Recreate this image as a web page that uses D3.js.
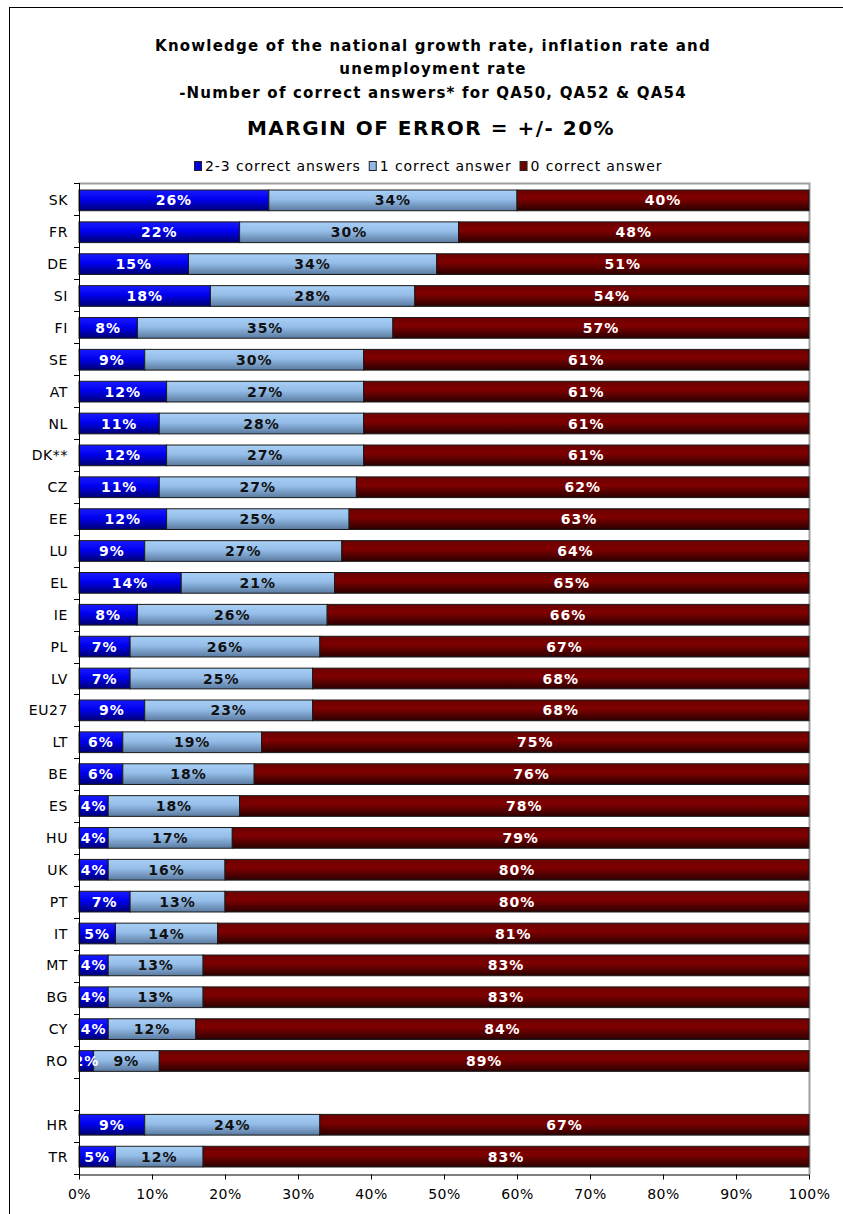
<!DOCTYPE html>
<html lang="en">
<head>
    <meta charset="UTF-8">
    <title>Knowledge of the national growth rate</title>
    <script src="https://d3js.org/d3.v7.min.js"></script>
    <style>
        body { margin: 0; background: #fff; }
        svg { display: block; font-family: "DejaVu Sans", Verdana, sans-serif; }
    </style>
</head>
<body>
    <script>
        const countries = ['SK', 'FR', 'DE', 'SI', 'FI', 'SE', 'AT', 'NL', 'DK**', 'CZ', 'EE', 'LU', 'EL', 'IE', 'PL', 'LV', 'EU27', 'LT', 'BE', 'ES', 'HU', 'UK', 'PT', 'IT', 'MT', 'BG', 'CY', 'RO', '', 'HR', 'TR'];
        const twoThree = [26, 22, 15, 18, 8, 9, 12, 11, 12, 11, 12, 9, 14, 8, 7, 7, 9, 6, 6, 4, 4, 4, 7, 5, 4, 4, 4, 2, null, 9, 5];
        const oneCorrect = [34, 30, 34, 28, 35, 30, 27, 28, 27, 27, 25, 27, 21, 26, 26, 25, 23, 19, 18, 18, 17, 16, 13, 14, 13, 13, 12, 9, null, 24, 12];
        const zeroCorrect = [40, 48, 51, 54, 57, 61, 61, 61, 61, 62, 63, 64, 65, 66, 67, 68, 68, 75, 76, 78, 79, 80, 80, 81, 83, 83, 84, 89, null, 67, 83];
        const seriesNames = ['2-3 correct answers', '1 correct answer', '0 correct answer'];
        const xTicks = [0, 10, 20, 30, 40, 50, 60, 70, 80, 90, 100];

        const W = 843, H = 1214;
        const pLeft = 79, pRight = 809, pTop = 183, pBottom = 1174;

        const svg = d3.select("body").append("svg")
            .attr("width", W)
            .attr("height", H);

        // gradients for the three series
        const defs = svg.append("defs");
        const grads = [
            { id: "gBlue", stops: [["0%", "#1a1aff"], ["45%", "#0000f0"], ["100%", "#000070"]] },
            { id: "gLight", stops: [["0%", "#a8cff5"], ["45%", "#94bde8"], ["100%", "#5a7aa0"]] },
            { id: "gRed", stops: [["0%", "#6a0000"], ["40%", "#800000"], ["100%", "#2a0000"]] }
        ];
        grads.forEach(g => {
            const lg = defs.append("linearGradient").attr("id", g.id)
                .attr("x1", 0).attr("y1", 0).attr("x2", 0).attr("y2", 1);
            g.stops.forEach(s => lg.append("stop").attr("offset", s[0]).attr("stop-color", s[1]));
        });
        defs.append("clipPath").attr("id", "plotClip")
            .append("rect").attr("x", pLeft).attr("y", pTop).attr("width", pRight - pLeft).attr("height", pBottom - pTop);

        // outer border
        svg.append("rect")
            .attr("x", 9.5).attr("y", 7.5)
            .attr("width", 860).attr("height", 1230)
            .attr("fill", "none").attr("stroke", "#000");

        // titles
        const titles = [
            ["Knowledge of the national growth rate, inflation rate and", 51],
            ["unemployment rate", 74],
            ["-Number of correct answers* for QA50, QA52 & QA54", 98]
        ];
        titles.forEach(t => {
            svg.append("text")
                .attr("x", 433).attr("y", t[1])
                .attr("text-anchor", "middle")
                .style("font-size", "15px")
                .style("font-weight", "bold")
                .style("letter-spacing", "1.2px")
                .text(t[0]);
        });
        svg.append("text")
            .attr("x", 431).attr("y", 135)
            .attr("text-anchor", "middle")
            .style("font-size", "20px")
            .style("font-weight", "bold")
            .style("letter-spacing", "1.5px")
            .text("MARGIN OF ERROR = +/- 20%");

        const x = d3.scaleLinear().domain([0, 100]).range([pLeft, pRight]);
        const y = d3.scaleBand()
            .domain(countries.map((c, i) => c || ' ' + i))
            .range([pTop, pBottom])
            .paddingInner(0.35)
            .paddingOuter(0.22);

        // plot area frame (grey top and right)
        svg.append("path")
            .attr("d", `M${pLeft},${pTop + 0.5}H${pRight + 0.5}V${pBottom}`)
            .attr("fill", "none")
            .attr("stroke", "#a0a0a0")
            .attr("stroke-width", 2);

        const rows = countries.map((c, i) => ({
            key: c || ' ' + i,
            vals: [twoThree[i], oneCorrect[i], zeroCorrect[i]]
        })).filter(d => d.vals[0] !== null);

        const fills = ["url(#gBlue)", "url(#gLight)", "url(#gRed)"];
        const textColors = ["#fff", "#111", "#fff"];

        const segs = [];
        rows.forEach(r => {
            let acc = 0;
            r.vals.forEach((v, s) => {
                segs.push({ key: r.key, s: s, x0: acc, x1: acc + v, v: v });
                acc += v;
            });
        });

        svg.append("g").selectAll("rect")
            .data(segs)
            .enter()
            .append("rect")
            .attr("x", d => x(d.x0))
            .attr("y", d => y(d.key))
            .attr("width", d => x(d.x1) - x(d.x0))
            .attr("height", y.bandwidth())
            .attr("fill", d => fills[d.s])
            .attr("stroke", "#1a1a1a")
            .attr("stroke-width", 1);

        svg.append("g")
            .attr("clip-path", "url(#plotClip)")
            .selectAll("text")
            .data(segs)
            .enter()
            .append("text")
            .attr("x", d => (x(d.x0) + x(d.x1)) / 2)
            .attr("y", d => y(d.key) + y.bandwidth() / 2)
            .attr("dy", "0.36em")
            .attr("text-anchor", "middle")
            .style("font-size", "14px")
            .style("font-weight", "bold")
            .style("letter-spacing", "1px")
            .style("fill", d => textColors[d.s])
            .text(d => d.v + '%');

        // left axis: line, ticks between categories, labels
        const yAxis = svg.append("g");
        yAxis.append("line")
            .attr("x1", pLeft + 0.5).attr("x2", pLeft + 0.5)
            .attr("y1", pTop).attr("y2", pBottom + 5)
            .attr("stroke", "#000");
        const bounds = d3.range(countries.length + 1).map(k => pTop + k * (pBottom - pTop) / countries.length);
        yAxis.selectAll("line.tick")
            .data(bounds)
            .enter()
            .append("line")
            .attr("class", "tick")
            .attr("x1", pLeft - 5).attr("x2", pLeft)
            .attr("y1", d => Math.round(d) + 0.5).attr("y2", d => Math.round(d) + 0.5)
            .attr("stroke", "#000");
        yAxis.selectAll("text")
            .data(countries)
            .enter()
            .append("text")
            .attr("x", 68)
            .attr("y", (d, i) => y(d || ' ' + i) + y.bandwidth() / 2)
            .attr("dy", "0.36em")
            .attr("text-anchor", "end")
            .style("font-size", "14px")
            .style("letter-spacing", "0.6px")
            .text(d => d);

        // bottom axis
        const xAxis = svg.append("g")
            .attr("transform", `translate(0,${pBottom + 0.5})`)
            .call(d3.axisBottom(x).tickValues(xTicks).tickSize(5).tickSizeOuter(0).tickPadding(10).tickFormat(d => d + '%'));
        xAxis.select(".domain").attr("stroke", "#000");
        xAxis.selectAll(".tick line").attr("stroke", "#000");
        xAxis.selectAll("text")
            .style("font-family", '"DejaVu Sans", Verdana, sans-serif')
            .style("font-size", "14px")
            .style("letter-spacing", "0.5px")
            .attr("fill", "#000");

        // legend
        const legendItems = seriesNames.map((n, i) => ({ name: n, fill: ["#0000e0", "#8fb8e6", "#700000"][i] }));
        const legend = svg.append("g");
        let lx = 194;
        legendItems.forEach(it => {
            legend.append("rect")
                .attr("x", lx + 0.5).attr("y", 161.5)
                .attr("width", 7).attr("height", 9)
                .attr("fill", it.fill)
                .attr("stroke", "#222");
            const t = legend.append("text")
                .attr("x", lx + 11).attr("y", 171)
                .style("font-size", "14px")
                .style("letter-spacing", "0.9px")
                .text(it.name);
            lx += 11 + t.node().getComputedTextLength() + 8;
        });
    </script>
</body>
</html>
